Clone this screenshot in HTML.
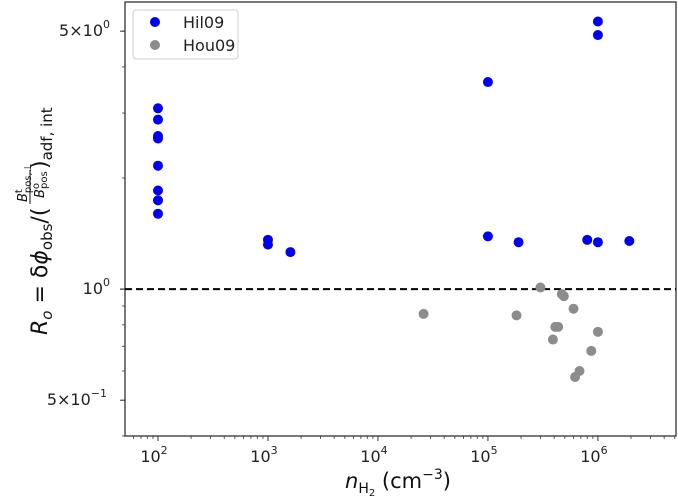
<!DOCTYPE html>
<html><head><meta charset="utf-8"><style>
html,body{margin:0;padding:0;background:#fff;}
svg{display:block;font-family:"DejaVu Sans","Liberation Sans",sans-serif;}
</style></head><body>
<svg id="chart" width="678" height="498" viewBox="0 0 678 498"></svg>
<script>
const hilX = [100,100,100,100,100,100,100,100,1000,1000,1600,1e5,1e5,1.9e5,8e5,1e6,1e6,1e6,1.93e6];
const hilY = [3.09,2.88,2.60,2.56,2.16,1.85,1.74,1.60,1.36,1.32,1.26,3.64,1.39,1.34,1.36,1.34,5.31,4.88,1.35];
const houX = [2.6e4,1.82e5,3.0e5,4.7e5,4.9e5,6.0e5,4.1e5,4.35e5,3.9e5,1e6,8.7e5,6.8e5,6.2e5];
const houY = [0.857,0.849,1.01,0.969,0.957,0.885,0.79,0.79,0.73,0.766,0.68,0.60,0.578];
const xTickVals = [2,3,4,5,6];
const yTickVals = [0.5,1,5];
const yTickLabels = ["5×10","10","5×10"];
const yTickExp = ["−1","0","0"];

const L=125,R=676,T=2,B=436;
const xmin=1.70,xmax=6.71,ymin=-0.398,ymax=0.778;
const sx=v=>L+(Math.log10(v)-xmin)/(xmax-xmin)*(R-L);
const sy=v=>B-(Math.log10(v)-ymin)/(ymax-ymin)*(B-T);
const svg=document.getElementById('chart');
const NS='http://www.w3.org/2000/svg';
function mk(t,a,p){const e=document.createElementNS(NS,t);for(const k in a)e.setAttribute(k,a[k]);(p||svg).appendChild(e);return e;}

const fr=mk('rect',{x:L,y:T,width:R-L,height:B-T,fill:'none',stroke:'#333','stroke-width':1.3});



const gx=mk('g',{});


for(let d=1;d<=6;d++){for(let m=1;m<10;m++){const v=m*Math.pow(10,d);const lv=Math.log10(v);if(lv<xmin||lv>xmax)continue;const x=sx(v);mk('line',{x1:x,x2:x,y1:B,y2:B+(m===1?5:3),stroke:'#333','stroke-width':m===1?1:0.8},gx);}}
xTickVals.forEach(e=>{const x=sx(Math.pow(10,e));const t=mk('text',{x:x-4,y:B+26,'font-size':16,'text-anchor':'middle',fill:'#222'},gx);t.textContent='10';const s=mk('tspan',{dy:-8,'font-size':11},t);s.textContent=e;});

const gy=mk('g',{});


for(let d=-1;d<=0;d++){for(let m=1;m<10;m++){const v=m*Math.pow(10,d);const lv=Math.log10(v);if(lv<ymin||lv>ymax)continue;const y=sy(v);mk('line',{x1:L,x2:L-(m===1?5:3),y1:y,y2:y,stroke:'#333','stroke-width':m===1?1:0.8},gy);}}
yTickVals.forEach((v,i)=>{const y=sy(v);mk('line',{x1:L,x2:L-5,y1:y,y2:y,stroke:'#333'},gy);const t=mk('text',{x:L-8-(yTickExp[i].length>1?10:7),y:y+5,'font-size':16,'text-anchor':'end',fill:'#222'},gy);t.textContent=yTickLabels[i];const s=mk('tspan',{dy:-8,'font-size':11},t);s.textContent=yTickExp[i];});

const dl=mk('line',{x1:L,x2:R,y1:sy(1),y2:sy(1),stroke:'#000','stroke-width':2,'stroke-dasharray':'7,4'});



const gh=mk('g',{});


hilX.forEach((v,i)=>{const c=mk('circle',{cx:sx(v),cy:sy(hilY[i]),r:5,fill:'#0000ee'},gh);});
const go=mk('g',{});


houX.forEach((v,i)=>{const c=mk('circle',{cx:sx(v),cy:sy(houY[i]),r:5,fill:'#8c8c8c'},go);});

const lg=mk('g',{});


mk('rect',{x:133,y:10,width:105,height:49,rx:3,fill:'#fff',stroke:'#ccc'},lg);
mk('circle',{cx:155,cy:22,r:5,fill:'#0000ee'},lg);
mk('circle',{cx:155,cy:45,r:5,fill:'#8c8c8c'},lg);
let t1=mk('text',{x:183,y:28,'font-size':16,fill:'#222'},lg);t1.textContent='Hil09';


let t2=mk('text',{x:183,y:51,'font-size':16,fill:'#222'},lg);t2.textContent='Hou09';


</script>
<svg width="678" height="498" style="position:absolute;left:0;top:0;font-family:'DejaVu Sans','Liberation Sans',sans-serif;">
<text x="398" y="488" font-size="21" text-anchor="middle" fill="#111"><tspan font-style="italic">n</tspan><tspan font-size="14" dy="5">H</tspan><tspan font-size="10" dy="3">2</tspan><tspan dy="-8"> (cm</tspan><tspan font-size="14" dy="-9">−3</tspan><tspan dy="9">)</tspan></text>
<g transform="translate(40,218) rotate(-90)" fill="#111">
<text x="-117" y="7" font-size="22"><tspan font-style="italic">R</tspan><tspan font-style="italic" font-size="15" dy="5">o</tspan><tspan dy="-5"> = δ</tspan><tspan font-style="italic">ϕ</tspan><tspan font-size="15" dy="5">obs</tspan><tspan dy="-5">/(</tspan></text>
<text x="16" y="-13" font-size="13"><tspan font-style="italic">B</tspan><tspan font-size="10" dy="-5">t</tspan><tspan font-size="10" dx="-4" dy="9">pos,⊥</tspan></text>
<line x1="14" x2="48" y1="-10" y2="-10" stroke="#111" stroke-width="1"/>
<text x="20" y="4" font-size="13"><tspan font-style="italic">B</tspan><tspan font-size="10" dy="-5">o</tspan><tspan font-size="10" dx="-6" dy="8">pos</tspan></text>
<text x="49" y="7" font-size="22">)<tspan font-size="15" dy="5">adf, int</tspan></text>
</g>
</svg>
</body></html>
